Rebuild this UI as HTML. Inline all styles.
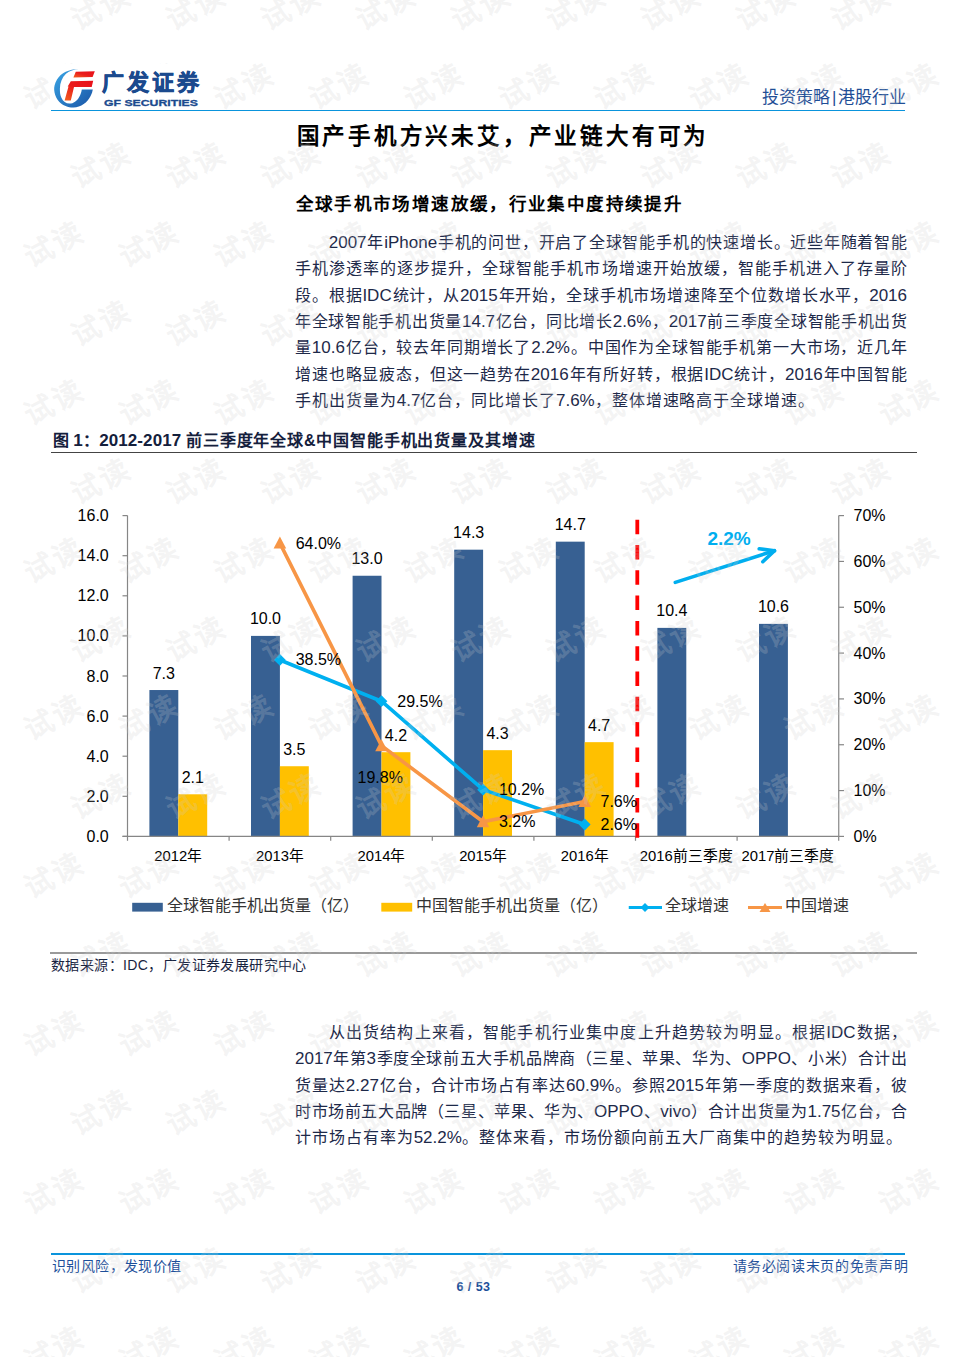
<!DOCTYPE html>
<html lang="zh-CN">
<head>
<meta charset="utf-8">
<style>
html,body{margin:0;padding:0;background:#fff;}
body{width:960px;height:1357px;position:relative;overflow:hidden;font-family:"Liberation Sans",sans-serif;}
.a{position:absolute;white-space:nowrap;}
.ln{position:absolute;left:295px;width:612px;height:26px;line-height:26px;font-size:16px;color:#1d2949;white-space:nowrap;text-align:justify;text-align-last:justify;}
.ln .e{font-size:17px;letter-spacing:0;}
.e2{font-size:17px;letter-spacing:0.1px;}
.ln.l{text-align:left;text-align-last:left;letter-spacing:0.95px;}
.ln.ind{left:328.75px;width:578.25px;}
.wm{position:absolute;width:100px;height:32px;line-height:32px;text-align:center;font-size:29px;font-weight:900;letter-spacing:2px;text-indent:2px;color:rgba(205,205,205,0.23);transform:rotate(-28deg);white-space:nowrap;}
</style>
</head>
<body>
<!-- LOGO -->
<div class="a" style="left:50px;top:64px;width:150px;height:44px;background:#fff;z-index:6">
<svg style="position:absolute;left:0;top:0" width="50" height="48" viewBox="0 0 50 48">
<defs>
<linearGradient id="gb" x1="0" y1="0" x2="1" y2="1"><stop offset="0" stop-color="#3aa6e6"/><stop offset="1" stop-color="#1a55a6"/></linearGradient>
<linearGradient id="gr" x1="0" y1="1" x2="1" y2="0"><stop offset="0" stop-color="#f2601e"/><stop offset="0.5" stop-color="#ea1c1c"/><stop offset="1" stop-color="#e8101a"/></linearGradient>
</defs>
<path d="M28.6 5.1 C19 5.2 11 9 7 15.6 C4.6 19.5 4 23.4 4.2 26 C4.6 33 9 39.5 15.6 42 C18.5 43.2 21 43.6 23.4 43.5 C31 43.3 37.5 38.5 40.6 32 C41.8 29.8 42.5 27.6 42.8 25.5 L31.8 25.5 C31.4 28 30.6 30.5 29.2 33 C27 37 23.5 39.6 19.5 39.6 C16 39.5 13 37.5 11.3 33.5 C10.2 31 9.8 28 9.9 24.5 C10 19 12 13.5 16 9.8 C19.5 6.8 24 5.5 28.6 5.1 Z" fill="url(#gb)"/>
<path d="M23.4 13.5 L25.8 7.8 L44.8 7.3 L42.6 13 Z" fill="url(#gr)"/>
<path d="M14.6 36.5 L18.5 22.5 L17.7 22.4 L20.8 17.2 L43.2 16.7 L41.7 22.9 L24 23 L20.8 36.5 Z" fill="url(#gr)"/>
</svg>
<div class="a" style="left:52px;top:6px;font-size:22px;font-weight:900;color:#1b4a8e;letter-spacing:3px;line-height:26px;-webkit-text-stroke:0.7px #1b4a8e">广发证券</div>
<div class="a" style="left:53.5px;top:32.5px;font-size:9.5px;font-weight:bold;color:#1b4a8e;letter-spacing:0;line-height:12px;transform:scaleX(1.29);transform-origin:0 0;-webkit-text-stroke:0.3px #1b4a8e">GF SECURITIES</div>
</div>

<div class="a" style="left:762px;top:86px;font-size:17px;color:#1f4e96;line-height:24px">投资策略<span style="margin:0 2px">|</span>港股行业</div>
<div class="a" style="left:51px;top:109.6px;width:854px;height:1.9px;background:#0a94dc"></div>

<!-- TITLE -->
<div class="a" style="left:296.5px;top:120.5px;font-size:22.5px;font-weight:bold;color:#000;letter-spacing:2.8px;line-height:32px">国产手机方兴未艾，产业链大有可为</div>
<div class="a" style="left:295.5px;top:191px;font-size:17.5px;font-weight:bold;color:#000;letter-spacing:2.38px;line-height:26px">全球手机市场增速放缓，行业集中度持续提升</div>

<!-- PARAGRAPH 1 -->
<div class="ln ind" style="top:230.20px"><span class="e">2007</span>年<span class="e">iPhone</span>手机的问世，开启了全球智能手机的快速增长。近些年随着智能</div>
<div class="ln" style="top:256.47px">手机渗透率的逐步提升，全球智能手机市场增速开始放缓，智能手机进入了存量阶</div>
<div class="ln" style="top:282.74px">段。根据<span class="e">IDC</span>统计，从<span class="e">2015</span>年开始，全球手机市场增速降至个位数增长水平，<span class="e">2016</span></div>
<div class="ln" style="top:309.01px">年全球智能手机出货量<span class="e">14.7</span>亿台，同比增长<span class="e">2.6%</span>，<span class="e">2017</span>前三季度全球智能手机出货</div>
<div class="ln" style="top:335.28px">量<span class="e">10.6</span>亿台，较去年同期增长了<span class="e">2.2%</span>。中国作为全球智能手机第一大市场，近几年</div>
<div class="ln" style="top:361.55px">增速也略显疲态，但这一趋势在<span class="e">2016</span>年有所好转，根据<span class="e">IDC</span>统计，<span class="e">2016</span>年中国智能</div>
<div class="ln l" style="top:387.82px">手机出货量为<span class="e">4.7</span>亿台，同比增长了<span class="e">7.6%</span>，整体增速略高于全球增速。</div>
<!-- FIGURE TITLE -->
<div class="a" style="left:52.5px;top:429.5px;font-size:16px;font-weight:bold;color:#14203c;line-height:22px;letter-spacing:0.2px">图 <span class="e2">1</span>：<span class="e2">2012-2017</span> <span style="letter-spacing:0.85px">前三季度年全球&amp;中国智能手机出货量及其增速</span></div>
<div class="a" style="left:51px;top:452px;width:866px;height:1.4px;background:#444"></div>
<!-- CHART -->
<svg class="a" style="left:0;top:0" width="960" height="1000" viewBox="0 0 960 1000">
<rect x="149.40" y="690.03" width="28.9" height="146.37" fill="#376092"/>
<rect x="251.00" y="635.90" width="28.9" height="200.50" fill="#376092"/>
<rect x="352.60" y="575.75" width="28.9" height="260.65" fill="#376092"/>
<rect x="454.20" y="549.68" width="28.9" height="286.72" fill="#376092"/>
<rect x="555.80" y="541.66" width="28.9" height="294.74" fill="#376092"/>
<rect x="657.40" y="627.88" width="28.9" height="208.52" fill="#376092"/>
<rect x="759.00" y="623.87" width="28.9" height="212.53" fill="#376092"/>
<rect x="178.30" y="794.29" width="28.9" height="42.11" fill="#FFC000"/>
<rect x="279.90" y="766.23" width="28.9" height="70.17" fill="#FFC000"/>
<rect x="381.50" y="752.19" width="28.9" height="84.21" fill="#FFC000"/>
<rect x="483.10" y="750.18" width="28.9" height="86.22" fill="#FFC000"/>
<rect x="584.70" y="742.16" width="28.9" height="94.24" fill="#FFC000"/>
<g stroke="#868686" stroke-width="1.2" fill="none">
<path d="M127.5 515.6 V836.4 M122.5 836.4 H838.75 M838.75 515.6 V836.4"/>
<path d="M122.5 836.40 H127.5"/>
<path d="M122.5 796.30 H127.5"/>
<path d="M122.5 756.20 H127.5"/>
<path d="M122.5 716.10 H127.5"/>
<path d="M122.5 676.00 H127.5"/>
<path d="M122.5 635.90 H127.5"/>
<path d="M122.5 595.80 H127.5"/>
<path d="M122.5 555.70 H127.5"/>
<path d="M122.5 515.60 H127.5"/>
<path d="M838.75 836.40 H844"/>
<path d="M838.75 790.57 H844"/>
<path d="M838.75 744.74 H844"/>
<path d="M838.75 698.91 H844"/>
<path d="M838.75 653.09 H844"/>
<path d="M838.75 607.26 H844"/>
<path d="M838.75 561.43 H844"/>
<path d="M838.75 515.60 H844"/>
<path d="M127.50 836.4 V840.8"/>
<path d="M229.10 836.4 V840.8"/>
<path d="M330.70 836.4 V840.8"/>
<path d="M432.30 836.4 V840.8"/>
<path d="M533.90 836.4 V840.8"/>
<path d="M635.50 836.4 V840.8"/>
<path d="M737.10 836.4 V840.8"/>
<path d="M838.70 836.4 V840.8"/>
</g>
<g font-family="Liberation Sans, sans-serif" font-size="16" fill="#000">
<text x="108.75" y="841.90" text-anchor="end">0.0</text>
<text x="108.75" y="801.80" text-anchor="end">2.0</text>
<text x="108.75" y="761.70" text-anchor="end">4.0</text>
<text x="108.75" y="721.60" text-anchor="end">6.0</text>
<text x="108.75" y="681.50" text-anchor="end">8.0</text>
<text x="108.75" y="641.40" text-anchor="end">10.0</text>
<text x="108.75" y="601.30" text-anchor="end">12.0</text>
<text x="108.75" y="561.20" text-anchor="end">14.0</text>
<text x="108.75" y="521.10" text-anchor="end">16.0</text>
<text x="853.5" y="841.90">0%</text>
<text x="853.5" y="796.07">10%</text>
<text x="853.5" y="750.24">20%</text>
<text x="853.5" y="704.41">30%</text>
<text x="853.5" y="658.59">40%</text>
<text x="853.5" y="612.76">50%</text>
<text x="853.5" y="566.93">60%</text>
<text x="853.5" y="521.10">70%</text>
</g>
<g font-family="Liberation Sans, sans-serif" font-size="14.8" fill="#000" text-anchor="middle">
<text x="178.30" y="860.5">2012年</text>
<text x="279.90" y="860.5">2013年</text>
<text x="381.50" y="860.5">2014年</text>
<text x="483.10" y="860.5">2015年</text>
<text x="584.70" y="860.5">2016年</text>
<text x="686.30" y="860.5">2016前三季度</text>
<text x="787.90" y="860.5">2017前三季度</text>
</g>
<g font-family="Liberation Sans, sans-serif" font-size="16" fill="#000" text-anchor="middle">
<text x="163.85" y="678.53">7.3</text>
<text x="265.45" y="624.40">10.0</text>
<text x="367.05" y="564.25">13.0</text>
<text x="468.65" y="538.18">14.3</text>
<text x="570.25" y="530.16">14.7</text>
<text x="671.85" y="616.38">10.4</text>
<text x="773.45" y="612.37">10.6</text>
<text x="192.75" y="782.79">2.1</text>
<text x="294.35" y="754.73">3.5</text>
<text x="395.95" y="740.69">4.2</text>
<text x="497.55" y="738.68">4.3</text>
<text x="599.15" y="730.66">4.7</text>
</g>
<path d="M637.3 519.7 V838" stroke="#FF0000" stroke-width="3.8" stroke-dasharray="14.5 10.8" fill="none"/>
<polyline points="279.90,659.96 381.50,701.21 483.10,789.65 584.70,824.48" fill="none" stroke="#00B0F0" stroke-width="3.6" stroke-linejoin="round"/>
<path d="M274.00 659.96 L279.90 654.06 L285.80 659.96 L279.90 665.86 Z" fill="#00B0F0"/>
<path d="M375.60 701.21 L381.50 695.31 L387.40 701.21 L381.50 707.11 Z" fill="#00B0F0"/>
<path d="M477.20 789.65 L483.10 783.75 L489.00 789.65 L483.10 795.55 Z" fill="#00B0F0"/>
<path d="M578.80 824.48 L584.70 818.58 L590.60 824.48 L584.70 830.38 Z" fill="#00B0F0"/>
<polyline points="279.90,543.10 381.50,745.66 483.10,821.73 584.70,801.57" fill="none" stroke="#F79646" stroke-width="3.6" stroke-linejoin="round"/>
<path d="M273.60 548.60 L279.90 536.60 L286.20 548.60 Z" fill="#F79646"/>
<path d="M375.20 751.16 L381.50 739.16 L387.80 751.16 Z" fill="#F79646"/>
<path d="M476.80 827.23 L483.10 815.23 L489.40 827.23 Z" fill="#F79646"/>
<path d="M578.40 807.07 L584.70 795.07 L591.00 807.07 Z" fill="#F79646"/>
<g font-family="Liberation Sans, sans-serif" font-size="16" fill="#000">
<text x="295.70" y="665.46">38.5%</text>
<text x="397.30" y="706.71">29.5%</text>
<text x="498.90" y="795.15">10.2%</text>
<text x="600.50" y="829.98">2.6%</text>
<text x="295.70" y="548.60">64.0%</text>
<text x="380.20" y="783.16" text-anchor="middle">19.8%</text>
<text x="498.90" y="827.23">3.2%</text>
<text x="600.50" y="807.07">7.6%</text>
</g>
<g stroke="#00AEEF" stroke-width="3.6" fill="none" stroke-linecap="round" stroke-linejoin="round"><path d="M675.3 582.4 L774.5 550.7"/><path d="M759.2 548.8 L774.5 550.7 L762.8 561.7"/></g>
<text x="707.4" y="544.9" font-family="Liberation Sans, sans-serif" font-size="19" font-weight="bold" fill="#00AEEF">2.2%</text>
<rect x="132.2" y="902.8" width="30.6" height="8.8" fill="#376092"/>
<rect x="381.3" y="902.8" width="30.9" height="8.8" fill="#FFC000"/>
<path d="M628.75 907.5 H662" stroke="#00B0F0" stroke-width="3.2"/>
<path d="M640.5 907.5 L645 903 L649.5 907.5 L645 912 Z" fill="#00B0F0"/>
<path d="M748 907.5 H782" stroke="#F79646" stroke-width="3.2"/>
<path d="M759.5 912 L765 903 L770.5 912 Z" fill="#F79646"/>
<g font-family="Liberation Sans, sans-serif" font-size="16" fill="#333">
<text x="166.5" y="911">全球智能手机出货量（亿）</text>
<text x="416" y="911">中国智能手机出货量（亿）</text>
<text x="665" y="911">全球增速</text>
<text x="785" y="911">中国增速</text>
</g>
</svg>
<!-- SOURCE -->
<div class="a" style="left:50px;top:951.9px;width:867px;height:1.7px;background:#9a9a9a"></div>
<div class="a" style="left:51px;top:955px;font-size:14px;color:#18233f;line-height:20px;letter-spacing:0.4px">数据来源：IDC，广发证券发展研究中心</div>
<!-- PARAGRAPH 2 -->
<div class="ln ind" style="top:1020.20px">从出货结构上来看，智能手机行业集中度上升趋势较为明显。根据<span class="e">IDC</span>数据，</div>
<div class="ln" style="top:1046.47px"><span class="e">2017</span>年第<span class="e">3</span>季度全球前五大手机品牌商（三星、苹果、华为、<span class="e">OPPO</span>、小米）合计出</div>
<div class="ln" style="top:1072.74px">货量达<span class="e">2.27</span>亿台，合计市场占有率达<span class="e">60.9%</span>。参照<span class="e">2015</span>年第一季度的数据来看，彼</div>
<div class="ln" style="top:1099.01px">时市场前五大品牌（三星、苹果、华为、<span class="e">OPPO</span>、<span class="e">vivo</span>）合计出货量为<span class="e">1.75</span>亿台，合</div>
<div class="ln l" style="top:1125.28px">计市场占有率为<span class="e">52.2%</span>。整体来看，市场份额向前五大厂商集中的趋势较为明显。</div>
<!-- FOOTER -->
<div class="a" style="left:51px;top:1252.7px;width:854px;height:2px;background:#0a94dc"></div>
<div class="a" style="left:52px;top:1256px;font-size:14px;color:#1d4f9a;line-height:20px;letter-spacing:0.4px">识别风险，发现价值</div>
<div class="a" style="left:732.5px;top:1256px;font-size:14px;color:#1d4f9a;line-height:20px;letter-spacing:0.65px">请务必阅读末页的免责声明</div>
<div class="a" style="left:456.5px;top:1277.5px;font-size:12.5px;font-weight:bold;color:#1d4f9a;line-height:18px;letter-spacing:0.45px">6 / 53</div>
<div id="wm" style="position:absolute;left:0;top:0;width:960px;height:1357px;overflow:hidden;pointer-events:none;z-index:5">
<span class="wm" style="left:50.0px;top:-7.7px">试读</span>
<span class="wm" style="left:145.0px;top:-7.7px">试读</span>
<span class="wm" style="left:240.0px;top:-7.7px">试读</span>
<span class="wm" style="left:335.0px;top:-7.7px">试读</span>
<span class="wm" style="left:430.0px;top:-7.7px">试读</span>
<span class="wm" style="left:525.0px;top:-7.7px">试读</span>
<span class="wm" style="left:620.0px;top:-7.7px">试读</span>
<span class="wm" style="left:715.0px;top:-7.7px">试读</span>
<span class="wm" style="left:810.0px;top:-7.7px">试读</span>
<span class="wm" style="left:2.5px;top:71.2px">试读</span>
<span class="wm" style="left:97.5px;top:71.2px">试读</span>
<span class="wm" style="left:192.5px;top:71.2px">试读</span>
<span class="wm" style="left:287.5px;top:71.2px">试读</span>
<span class="wm" style="left:382.5px;top:71.2px">试读</span>
<span class="wm" style="left:477.5px;top:71.2px">试读</span>
<span class="wm" style="left:572.5px;top:71.2px">试读</span>
<span class="wm" style="left:667.5px;top:71.2px">试读</span>
<span class="wm" style="left:762.5px;top:71.2px">试读</span>
<span class="wm" style="left:857.5px;top:71.2px">试读</span>
<span class="wm" style="left:50.0px;top:150.1px">试读</span>
<span class="wm" style="left:145.0px;top:150.1px">试读</span>
<span class="wm" style="left:240.0px;top:150.1px">试读</span>
<span class="wm" style="left:335.0px;top:150.1px">试读</span>
<span class="wm" style="left:430.0px;top:150.1px">试读</span>
<span class="wm" style="left:525.0px;top:150.1px">试读</span>
<span class="wm" style="left:620.0px;top:150.1px">试读</span>
<span class="wm" style="left:715.0px;top:150.1px">试读</span>
<span class="wm" style="left:810.0px;top:150.1px">试读</span>
<span class="wm" style="left:2.5px;top:229.0px">试读</span>
<span class="wm" style="left:97.5px;top:229.0px">试读</span>
<span class="wm" style="left:192.5px;top:229.0px">试读</span>
<span class="wm" style="left:287.5px;top:229.0px">试读</span>
<span class="wm" style="left:382.5px;top:229.0px">试读</span>
<span class="wm" style="left:477.5px;top:229.0px">试读</span>
<span class="wm" style="left:572.5px;top:229.0px">试读</span>
<span class="wm" style="left:667.5px;top:229.0px">试读</span>
<span class="wm" style="left:762.5px;top:229.0px">试读</span>
<span class="wm" style="left:857.5px;top:229.0px">试读</span>
<span class="wm" style="left:50.0px;top:307.9px">试读</span>
<span class="wm" style="left:145.0px;top:307.9px">试读</span>
<span class="wm" style="left:240.0px;top:307.9px">试读</span>
<span class="wm" style="left:335.0px;top:307.9px">试读</span>
<span class="wm" style="left:430.0px;top:307.9px">试读</span>
<span class="wm" style="left:525.0px;top:307.9px">试读</span>
<span class="wm" style="left:620.0px;top:307.9px">试读</span>
<span class="wm" style="left:715.0px;top:307.9px">试读</span>
<span class="wm" style="left:810.0px;top:307.9px">试读</span>
<span class="wm" style="left:2.5px;top:386.8px">试读</span>
<span class="wm" style="left:97.5px;top:386.8px">试读</span>
<span class="wm" style="left:192.5px;top:386.8px">试读</span>
<span class="wm" style="left:287.5px;top:386.8px">试读</span>
<span class="wm" style="left:382.5px;top:386.8px">试读</span>
<span class="wm" style="left:477.5px;top:386.8px">试读</span>
<span class="wm" style="left:572.5px;top:386.8px">试读</span>
<span class="wm" style="left:667.5px;top:386.8px">试读</span>
<span class="wm" style="left:762.5px;top:386.8px">试读</span>
<span class="wm" style="left:857.5px;top:386.8px">试读</span>
<span class="wm" style="left:50.0px;top:465.7px">试读</span>
<span class="wm" style="left:145.0px;top:465.7px">试读</span>
<span class="wm" style="left:240.0px;top:465.7px">试读</span>
<span class="wm" style="left:335.0px;top:465.7px">试读</span>
<span class="wm" style="left:430.0px;top:465.7px">试读</span>
<span class="wm" style="left:525.0px;top:465.7px">试读</span>
<span class="wm" style="left:620.0px;top:465.7px">试读</span>
<span class="wm" style="left:715.0px;top:465.7px">试读</span>
<span class="wm" style="left:810.0px;top:465.7px">试读</span>
<span class="wm" style="left:2.5px;top:544.6px">试读</span>
<span class="wm" style="left:97.5px;top:544.6px">试读</span>
<span class="wm" style="left:192.5px;top:544.6px">试读</span>
<span class="wm" style="left:287.5px;top:544.6px">试读</span>
<span class="wm" style="left:382.5px;top:544.6px">试读</span>
<span class="wm" style="left:477.5px;top:544.6px">试读</span>
<span class="wm" style="left:572.5px;top:544.6px">试读</span>
<span class="wm" style="left:667.5px;top:544.6px">试读</span>
<span class="wm" style="left:762.5px;top:544.6px">试读</span>
<span class="wm" style="left:857.5px;top:544.6px">试读</span>
<span class="wm" style="left:50.0px;top:623.5px">试读</span>
<span class="wm" style="left:145.0px;top:623.5px">试读</span>
<span class="wm" style="left:240.0px;top:623.5px">试读</span>
<span class="wm" style="left:335.0px;top:623.5px">试读</span>
<span class="wm" style="left:430.0px;top:623.5px">试读</span>
<span class="wm" style="left:525.0px;top:623.5px">试读</span>
<span class="wm" style="left:620.0px;top:623.5px">试读</span>
<span class="wm" style="left:715.0px;top:623.5px">试读</span>
<span class="wm" style="left:810.0px;top:623.5px">试读</span>
<span class="wm" style="left:2.5px;top:702.4px">试读</span>
<span class="wm" style="left:97.5px;top:702.4px">试读</span>
<span class="wm" style="left:192.5px;top:702.4px">试读</span>
<span class="wm" style="left:287.5px;top:702.4px">试读</span>
<span class="wm" style="left:382.5px;top:702.4px">试读</span>
<span class="wm" style="left:477.5px;top:702.4px">试读</span>
<span class="wm" style="left:572.5px;top:702.4px">试读</span>
<span class="wm" style="left:667.5px;top:702.4px">试读</span>
<span class="wm" style="left:762.5px;top:702.4px">试读</span>
<span class="wm" style="left:857.5px;top:702.4px">试读</span>
<span class="wm" style="left:50.0px;top:781.3px">试读</span>
<span class="wm" style="left:145.0px;top:781.3px">试读</span>
<span class="wm" style="left:240.0px;top:781.3px">试读</span>
<span class="wm" style="left:335.0px;top:781.3px">试读</span>
<span class="wm" style="left:430.0px;top:781.3px">试读</span>
<span class="wm" style="left:525.0px;top:781.3px">试读</span>
<span class="wm" style="left:620.0px;top:781.3px">试读</span>
<span class="wm" style="left:715.0px;top:781.3px">试读</span>
<span class="wm" style="left:810.0px;top:781.3px">试读</span>
<span class="wm" style="left:2.5px;top:860.2px">试读</span>
<span class="wm" style="left:97.5px;top:860.2px">试读</span>
<span class="wm" style="left:192.5px;top:860.2px">试读</span>
<span class="wm" style="left:287.5px;top:860.2px">试读</span>
<span class="wm" style="left:382.5px;top:860.2px">试读</span>
<span class="wm" style="left:477.5px;top:860.2px">试读</span>
<span class="wm" style="left:572.5px;top:860.2px">试读</span>
<span class="wm" style="left:667.5px;top:860.2px">试读</span>
<span class="wm" style="left:762.5px;top:860.2px">试读</span>
<span class="wm" style="left:857.5px;top:860.2px">试读</span>
<span class="wm" style="left:50.0px;top:939.1px">试读</span>
<span class="wm" style="left:145.0px;top:939.1px">试读</span>
<span class="wm" style="left:240.0px;top:939.1px">试读</span>
<span class="wm" style="left:335.0px;top:939.1px">试读</span>
<span class="wm" style="left:430.0px;top:939.1px">试读</span>
<span class="wm" style="left:525.0px;top:939.1px">试读</span>
<span class="wm" style="left:620.0px;top:939.1px">试读</span>
<span class="wm" style="left:715.0px;top:939.1px">试读</span>
<span class="wm" style="left:810.0px;top:939.1px">试读</span>
<span class="wm" style="left:2.5px;top:1018.0px">试读</span>
<span class="wm" style="left:97.5px;top:1018.0px">试读</span>
<span class="wm" style="left:192.5px;top:1018.0px">试读</span>
<span class="wm" style="left:287.5px;top:1018.0px">试读</span>
<span class="wm" style="left:382.5px;top:1018.0px">试读</span>
<span class="wm" style="left:477.5px;top:1018.0px">试读</span>
<span class="wm" style="left:572.5px;top:1018.0px">试读</span>
<span class="wm" style="left:667.5px;top:1018.0px">试读</span>
<span class="wm" style="left:762.5px;top:1018.0px">试读</span>
<span class="wm" style="left:857.5px;top:1018.0px">试读</span>
<span class="wm" style="left:50.0px;top:1096.9px">试读</span>
<span class="wm" style="left:145.0px;top:1096.9px">试读</span>
<span class="wm" style="left:240.0px;top:1096.9px">试读</span>
<span class="wm" style="left:335.0px;top:1096.9px">试读</span>
<span class="wm" style="left:430.0px;top:1096.9px">试读</span>
<span class="wm" style="left:525.0px;top:1096.9px">试读</span>
<span class="wm" style="left:620.0px;top:1096.9px">试读</span>
<span class="wm" style="left:715.0px;top:1096.9px">试读</span>
<span class="wm" style="left:810.0px;top:1096.9px">试读</span>
<span class="wm" style="left:2.5px;top:1175.8px">试读</span>
<span class="wm" style="left:97.5px;top:1175.8px">试读</span>
<span class="wm" style="left:192.5px;top:1175.8px">试读</span>
<span class="wm" style="left:287.5px;top:1175.8px">试读</span>
<span class="wm" style="left:382.5px;top:1175.8px">试读</span>
<span class="wm" style="left:477.5px;top:1175.8px">试读</span>
<span class="wm" style="left:572.5px;top:1175.8px">试读</span>
<span class="wm" style="left:667.5px;top:1175.8px">试读</span>
<span class="wm" style="left:762.5px;top:1175.8px">试读</span>
<span class="wm" style="left:857.5px;top:1175.8px">试读</span>
<span class="wm" style="left:50.0px;top:1254.7px">试读</span>
<span class="wm" style="left:145.0px;top:1254.7px">试读</span>
<span class="wm" style="left:240.0px;top:1254.7px">试读</span>
<span class="wm" style="left:335.0px;top:1254.7px">试读</span>
<span class="wm" style="left:430.0px;top:1254.7px">试读</span>
<span class="wm" style="left:525.0px;top:1254.7px">试读</span>
<span class="wm" style="left:620.0px;top:1254.7px">试读</span>
<span class="wm" style="left:715.0px;top:1254.7px">试读</span>
<span class="wm" style="left:810.0px;top:1254.7px">试读</span>
<span class="wm" style="left:2.5px;top:1333.6px">试读</span>
<span class="wm" style="left:97.5px;top:1333.6px">试读</span>
<span class="wm" style="left:192.5px;top:1333.6px">试读</span>
<span class="wm" style="left:287.5px;top:1333.6px">试读</span>
<span class="wm" style="left:382.5px;top:1333.6px">试读</span>
<span class="wm" style="left:477.5px;top:1333.6px">试读</span>
<span class="wm" style="left:572.5px;top:1333.6px">试读</span>
<span class="wm" style="left:667.5px;top:1333.6px">试读</span>
<span class="wm" style="left:762.5px;top:1333.6px">试读</span>
<span class="wm" style="left:857.5px;top:1333.6px">试读</span>
</div>
</body>
</html>
